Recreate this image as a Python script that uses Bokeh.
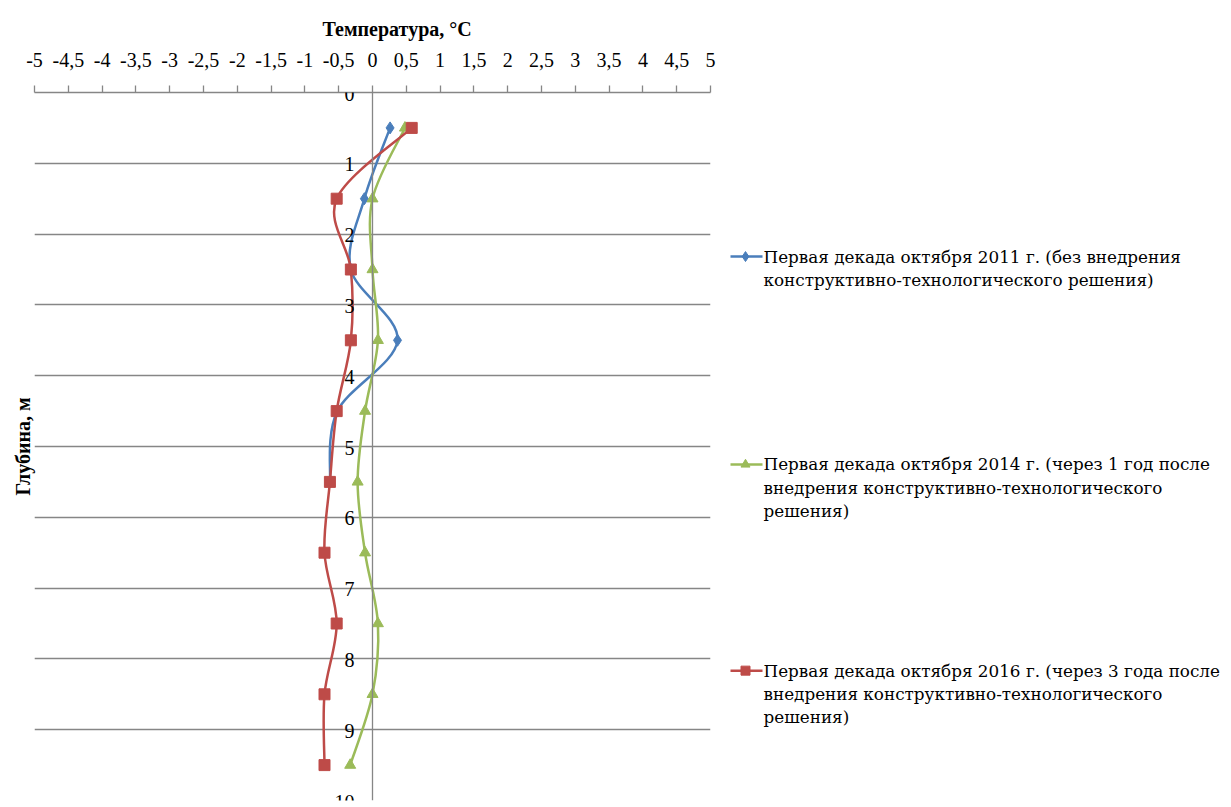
from bokeh.plotting import figure
from bokeh.models import FixedTicker, Range1d, Span, Grid, Title, LabelSet, ColumnDataSource
from bokeh.layouts import row
from bokeh.core.properties import value
from bokeh.embed import file_html
from bokeh.resources import INLINE

# ---- data ----
temp_ticks = [-5, -4.5, -4, -3.5, -3, -2.5, -2, -1.5, -1, -0.5, 0, 0.5, 1, 1.5, 2, 2.5, 3, 3.5, 4, 4.5, 5]
depth_ticks = [0, 1, 2, 3, 4, 5, 6, 7, 8, 9, 10]

depth_2011 = [0.5, 1.5, 2.5, 3.5, 4.5, 5.5]
temp_2011 = [0.26, -0.12, -0.32, 0.37, -0.52, -0.63]

depth_2014 = [0.5, 1.5, 2.5, 3.5, 4.5, 5.5, 6.5, 7.5, 8.5, 9.5]
temp_2014 = [0.48, 0.0, 0.0, 0.08, -0.11, -0.22, -0.11, 0.08, 0.0, -0.33]

depth_2016 = [0.5, 1.5, 2.5, 3.5, 4.5, 5.5, 6.5, 7.5, 8.5, 9.5]
temp_2016 = [0.58, -0.53, -0.32, -0.32, -0.53, -0.63, -0.71, -0.53, -0.71, -0.71]

labels = [
    "Первая декада октября 2011 г. (без внедрения\nконструктивно-технологического решения)",
    "Первая декада октября 2014 г. (через 1 год после\nвнедрения конструктивно-технологического\nрешения)",
    "Первая декада октября 2016 г. (через 3 года после\nвнедрения конструктивно-технологического\nрешения)",
]
x_title = "Температура, °C"
y_title = "Глубина, м"

colors = ["#4A7EBB", "#9BBB59", "#BE4B48"]
markers = ["diamond", "triangle", "square"]
msizes = [12, 11, 11]

GRID = "#868686"
SERIF = "Liberation Serif"

series = [(temp_2011, depth_2011), (temp_2014, depth_2014), (temp_2016, depth_2016)]


def smooth_segments(xs, ys):
    n = len(xs)
    out = {k: [] for k in ("x0", "y0", "x1", "y1", "cx0", "cy0", "cx1", "cy1")}
    for i in range(n - 1):
        a = i - 1 if i > 0 else i
        d = i + 2 if i + 2 < n else i + 1
        out["x0"].append(xs[i]); out["y0"].append(ys[i])
        out["x1"].append(xs[i + 1]); out["y1"].append(ys[i + 1])
        out["cx0"].append(xs[i] + (xs[i + 1] - xs[a]) / 6.0)
        out["cy0"].append(ys[i] + (ys[i + 1] - ys[a]) / 6.0)
        out["cx1"].append(xs[i + 1] - (xs[d] - xs[i]) / 6.0)
        out["cy1"].append(ys[i + 1] - (ys[d] - ys[i]) / 6.0)
    return out


# ---- main figure ----
MW, MH = 722, 807
p = figure(width=MW, height=MH, x_range=Range1d(-5, 5), y_range=Range1d(10, 0),
           x_axis_location="above", y_axis_location=None,
           toolbar_location=None, output_backend="svg",
           min_border_left=34, min_border_right=12, min_border_top=92, min_border_bottom=7)
p.outline_line_color = None
p.background_fill_color = "white"
p.border_fill_color = "white"
p.xgrid.visible = False

p.title.text = x_title
p.title.align = "left"
p.title.offset = 288
p.title.text_font = SERIF
p.title.text_font_size = "20px"
p.title.text_font_style = "bold"
p.title.text_color = "black"
p.title.standoff = 19

lt = Title(text=y_title, align="center", text_font=SERIF, text_font_size="20px",
           text_font_style="bold", text_color="black", standoff=1)
p.add_layout(lt, "left")

ax = p.xaxis[0]
ax.ticker = FixedTicker(ticks=temp_ticks)
ax.major_label_overrides = {t: (str(t).replace(".", ",")) for t in temp_ticks}
ax.major_label_text_font = SERIF
ax.major_label_text_font_size = "20px"
ax.major_label_text_color = "black"
ax.major_label_standoff = 19
ax.axis_line_color = GRID
ax.axis_line_width = 1.3
ax.major_tick_line_color = GRID
ax.major_tick_line_width = 1.3
ax.major_tick_in = 0
ax.major_tick_out = 7
ax.minor_tick_line_color = None

g = Grid(dimension=1, ticker=FixedTicker(ticks=depth_ticks), grid_line_color=GRID, grid_line_width=1.3)
p.add_layout(g)
p.add_layout(Span(location=0, dimension="height", line_color=GRID, line_width=1.3))

ysrc = ColumnDataSource(dict(x=[0] * len(depth_ticks), y=depth_ticks, t=[str(d) for d in depth_ticks]))
p.add_layout(LabelSet(source=ysrc, x="x", y="y", text="t", x_offset=-18, y_offset=-1,
                      text_align="right", text_baseline="middle",
                      text_font=value(SERIF), text_font_size="20px", text_color="black"))

for (xs, ys), c, m, s in zip(series, colors, markers, msizes):
    seg = smooth_segments(xs, ys)
    p.bezier(source=seg, x0="x0", y0="y0", x1="x1", y1="y1", cx0="cx0", cy0="cy0",
             cx1="cx1", cy1="cy1", line_color=c, line_width=2.5)
    p.scatter(xs, ys, marker=m, size=s, fill_color=c, line_color=c)

# ---- legend figure ----
LW, LH = 509, 807
leg = figure(width=LW, height=LH, x_range=Range1d(0, LW), y_range=Range1d(LH, 0),
             x_axis_location=None, y_axis_location=None, toolbar_location=None,
             output_backend="svg", min_border=0)
leg.outline_line_color = None
leg.xgrid.visible = False
leg.ygrid.visible = False

item_y = [187, 424, 659]
line_gap = 26.5
for lab, yy, c, m, s in zip(labels, item_y, colors, markers, msizes):
    leg.line([8, 40], [yy, yy], line_color=c, line_width=2.5)
    leg.scatter([23], [yy], marker=m, size=s - 2, fill_color=c, line_color=c)
    lines = lab.split("\n")
    leg.text(x=[41] * len(lines), y=[yy + i * line_gap for i in range(len(lines))], text=lines,
             text_align="left", text_baseline="middle",
             text_font=value("DejaVu Serif"), text_font_size="16.8px", text_color="black")

layout = row(p, leg)
open("out.html", "w").write(file_html(layout, INLINE))
